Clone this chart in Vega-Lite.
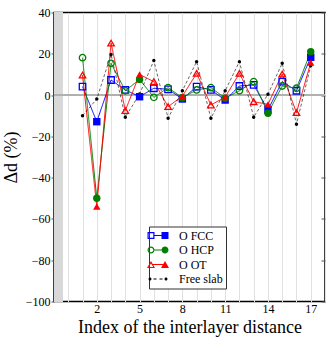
{
  "$schema": "https://vega.github.io/schema/vega-lite/v6.json",
  "width": 271,
  "height": 289,
  "autosize": {"type": "none"},
  "padding": {"left": 54, "top": 12.5, "right": 7, "bottom": 40},
  "config": {
    "font": "Liberation Serif",
    "view": {"stroke": "#000", "strokeWidth": 1.5},
    "axis": {"labelFont": "Liberation Serif", "titleFont": "Liberation Serif", "labelColor": "#000", "titleColor": "#000", "labelFontSize": 12, "titleFontWeight": "normal", "domain": false}
  },
  "datasets": {
    "d": [
      {"idx": 1, "series": "O FCC", "value": 4.1}, {"idx": 2, "series": "O FCC", "value": -12.9}, {"idx": 3, "series": "O FCC", "value": 7.3}, {"idx": 4, "series": "O FCC", "value": 2.5}, {"idx": 5, "series": "O FCC", "value": -0.8}, {"idx": 6, "series": "O FCC", "value": 3.3}, {"idx": 7, "series": "O FCC", "value": 2.8}, {"idx": 8, "series": "O FCC", "value": -1.9}, {"idx": 9, "series": "O FCC", "value": 4.1}, {"idx": 10, "series": "O FCC", "value": 2.5}, {"idx": 11, "series": "O FCC", "value": -2.4}, {"idx": 12, "series": "O FCC", "value": 4.4}, {"idx": 13, "series": "O FCC", "value": 4.9}, {"idx": 14, "series": "O FCC", "value": -7.2}, {"idx": 15, "series": "O FCC", "value": 6.5}, {"idx": 16, "series": "O FCC", "value": 2.1}, {"idx": 17, "series": "O FCC", "value": 18.3},
      {"idx": 1, "series": "O HCP", "value": 18.1}, {"idx": 2, "series": "O HCP", "value": -50}, {"idx": 3, "series": "O HCP", "value": 15.4}, {"idx": 4, "series": "O HCP", "value": 2.1}, {"idx": 5, "series": "O HCP", "value": 7.6}, {"idx": 6, "series": "O HCP", "value": -1.1}, {"idx": 7, "series": "O HCP", "value": 3.6}, {"idx": 8, "series": "O HCP", "value": -1.3}, {"idx": 9, "series": "O HCP", "value": 2.5}, {"idx": 10, "series": "O HCP", "value": 3.6}, {"idx": 11, "series": "O HCP", "value": -1.5}, {"idx": 12, "series": "O HCP", "value": 2.1}, {"idx": 13, "series": "O HCP", "value": 6.5}, {"idx": 14, "series": "O HCP", "value": -8.8}, {"idx": 15, "series": "O HCP", "value": 4.4}, {"idx": 16, "series": "O HCP", "value": 3.3}, {"idx": 17, "series": "O HCP", "value": 21},
      {"idx": 1, "series": "O OT", "value": 9.7}, {"idx": 2, "series": "O OT", "value": -54}, {"idx": 3, "series": "O OT", "value": 25.2}, {"idx": 4, "series": "O OT", "value": -7.5}, {"idx": 5, "series": "O OT", "value": 10}, {"idx": 6, "series": "O OT", "value": 6.5}, {"idx": 7, "series": "O OT", "value": -5.6}, {"idx": 8, "series": "O OT", "value": -0.5}, {"idx": 9, "series": "O OT", "value": 10.5}, {"idx": 10, "series": "O OT", "value": -4.8}, {"idx": 11, "series": "O OT", "value": -1}, {"idx": 12, "series": "O OT", "value": 10.5}, {"idx": 13, "series": "O OT", "value": -3.2}, {"idx": 14, "series": "O OT", "value": -4.5}, {"idx": 15, "series": "O OT", "value": 10.2}, {"idx": 16, "series": "O OT", "value": -8.5}, {"idx": 17, "series": "O OT", "value": 15.7},
      {"idx": 1, "series": "Free slab", "value": -10}, {"idx": 2, "series": "Free slab", "value": -1.9}, {"idx": 3, "series": "Free slab", "value": 19.7}, {"idx": 4, "series": "Free slab", "value": -10.7}, {"idx": 5, "series": "Free slab", "value": 0.5}, {"idx": 6, "series": "Free slab", "value": 16.7}, {"idx": 7, "series": "Free slab", "value": -11.2}, {"idx": 8, "series": "Free slab", "value": 2.1}, {"idx": 9, "series": "Free slab", "value": 16.2}, {"idx": 10, "series": "Free slab", "value": -11.2}, {"idx": 11, "series": "Free slab", "value": 2.1}, {"idx": 12, "series": "Free slab", "value": 16.2}, {"idx": 13, "series": "Free slab", "value": -10.7}, {"idx": 14, "series": "Free slab", "value": 0.4}, {"idx": 15, "series": "Free slab", "value": 15.4}, {"idx": 16, "series": "Free slab", "value": -14.1}, {"idx": 17, "series": "Free slab", "value": 14.2}
    ]
  },
  "data": {"name": "d"},
  "resolve": {"axis": {"x": "independent", "y": "independent"}, "scale": {"shape": "independent", "fill": "independent"}},
  "layer": [
    {
      "mark": {"type": "rect", "color": "#d8d8d8"},
      "encoding": {
        "x": {"datum": -1, "type": "quantitative", "scale": {"domain": [-1, 18], "nice": false, "zero": false},
          "axis": {"orient": "bottom", "values": [-1, 0, 1, 2, 3, 4, 5, 6, 7, 8, 9, 10, 11, 12, 13, 14, 15, 16, 17, 18], "labels": false, "grid": true, "gridColor": "#e2e2e2", "gridWidth": 1, "gridOpacity": 1, "ticks": false, "title": null}},
        "x2": {"datum": -0.42},
        "y": {"datum": -100, "type": "quantitative", "scale": {"domain": [-100, 40], "nice": false, "zero": false},
          "axis": {"orient": "left", "values": [-100, -80, -60, -40, -20, 0, 20, 40], "labelOverlap": false, "labelFlush": false, "grid": false, "tickSize": 3, "tickColor": "#555", "labelPadding": 1, "title": "Δd (%)", "titleFontSize": 18, "titlePadding": 5}},
        "y2": {"datum": 40}
      }
    },
    {
      "mark": {"type": "rule", "color": "#b0b0b0", "strokeWidth": 1},
      "encoding": {
        "y": {"datum": 0, "type": "quantitative", "axis": {"orient": "right", "values": [-100, -80, -60, -40, -20, 0, 20, 40], "grid": false, "labels": false, "tickSize": -4, "tickColor": "#555", "title": null}}
      }
    },
    {
      "mark": {"type": "line", "strokeWidth": 1},
      "encoding": {
        "x": {"field": "idx", "type": "quantitative",
          "axis": {"orient": "bottom", "values": [2, 5, 8, 11, 14, 17], "grid": false, "ticks": false, "labelPadding": 2, "labelFlush": false, "labelOverlap": false, "title": "Index of the interlayer distance", "titleFontSize": 18, "titlePadding": 4}},
        "y": {"field": "value", "type": "quantitative", "axis": null},
        "color": {"field": "series", "type": "nominal",
          "scale": {"domain": ["O FCC", "O HCP", "O OT", "Free slab"], "range": ["#0000ff", "#008000", "#ff0000", "#000000"]},
          "legend": null},
        "strokeDash": {"field": "series", "type": "nominal", "scale": {"domain": ["O FCC", "O HCP", "O OT", "Free slab"], "range": [[1, 0], [1, 0], [1, 0], [3, 2]]}, "legend": null},
        "strokeOpacity": {"condition": {"test": "datum.series === 'Free slab'", "value": 0.6}, "value": 1}
      }
    },
    {
      "transform": [{"filter": "datum.series === 'Free slab'"}],
      "mark": {"type": "point", "filled": true, "shape": "circle", "size": 12, "color": "#000", "opacity": 1},
      "encoding": {
        "x": {"field": "idx", "type": "quantitative", "axis": null},
        "y": {"field": "value", "type": "quantitative", "axis": null}
      }
    },
    {
      "transform": [{"filter": "datum.series !== 'Free slab' && datum.idx % 3 !== 2"}],
      "mark": {"type": "point", "filled": false, "strokeWidth": 1.3, "size": 42, "opacity": 1, "fill": "#ffffff", "fillOpacity": 0},
      "encoding": {
        "x": {"field": "idx", "type": "quantitative", "axis": null},
        "y": {"field": "value", "type": "quantitative", "axis": null},
        "color": {"field": "series", "type": "nominal", "legend": null},
        "shape": {"field": "series", "type": "nominal", "scale": {"domain": ["O FCC", "O HCP", "O OT", "Free slab"], "range": ["square", "circle", "triangle-up", "circle"]}, "legend": null}
      }
    },
    {
      "transform": [{"filter": "datum.series !== 'Free slab' && datum.idx % 3 === 2"}],
      "mark": {"type": "point", "filled": true, "size": 55, "opacity": 1},
      "encoding": {
        "x": {"field": "idx", "type": "quantitative", "axis": null},
        "y": {"field": "value", "type": "quantitative", "axis": null},
        "color": {"field": "series", "type": "nominal", "legend": null},
        "shape": {"field": "series", "type": "nominal", "scale": {"domain": ["O FCC", "O HCP", "O OT", "Free slab"], "range": ["square", "circle", "triangle-up", "circle"]}, "legend": null}
      }
    },
    {
      "transform": [{"filter": "datum.idx === 1"}],
      "mark": {"type": "point", "filled": true, "size": 4, "opacity": 0, "strokeWidth": 0},
      "encoding": {
        "x": {"field": "idx", "type": "quantitative", "axis": null},
        "y": {"field": "value", "type": "quantitative", "axis": null},
        "fill": {"field": "series", "type": "nominal",
          "scale": {"domain": ["O FCC", "O HCP", "O OT", "Free slab"], "range": ["#0000ff", "#008000", "#ff0000", "#000000"]},
          "legend": {
            "orient": "none", "legendX": 95, "legendY": 214, "title": null,
            "fillColor": "#ffffff", "strokeColor": "#333333", "padding": 3, "cornerRadius": 0,
            "labelFont": "Liberation Serif", "labelFontSize": 12, "labelColor": "#000", "labelOffset": 15,
            "symbolSize": 4, "symbolStrokeWidth": 0, "symbolOpacity": 1, "rowPadding": 2.5}},
        "shape": {"field": "series", "type": "nominal",
          "scale": {"domain": ["O FCC", "O HCP", "O OT", "Free slab"], "range": [
            "M-10.5,-3.5L-3.5,-3.5L-3.5,3.5L-10.5,3.5ZM-9.3,-2.3L-9.3,2.3L-4.7,2.3L-4.7,-2.3ZM-3.5,-0.5L3.5,-0.5L3.5,0.5L-3.5,0.5ZM3.5,-3.5L10.5,-3.5L10.5,3.5L3.5,3.5Z",
            "M-10.5,0A3.5,3.5 0 1 1 -3.5,0A3.5,3.5 0 1 1 -10.5,0ZM-9.3,0A2.3,2.3 0 1 0 -4.7,0A2.3,2.3 0 1 0 -9.3,0ZM-3.5,-0.5L3.5,-0.5L3.5,0.5L-3.5,0.5ZM3.5,0A3.5,3.5 0 1 1 10.5,0A3.5,3.5 0 1 1 3.5,0Z",
            "M-7,-3.5L-3,3.5L-11,3.5ZM-7,-1.1L-9.3,2.4L-4.7,2.4ZM-5.5,-0.5L5.5,-0.5L5.5,0.5L-5.5,0.5ZM7,-3.5L11,3.5L3,3.5Z",
            "M-9.5,0A1.5,1.5 0 1 1 -6.5,0A1.5,1.5 0 1 1 -9.5,0ZM-4.5,-0.4L-1.5,-0.4L-1.5,0.4L-4.5,0.4ZM1.5,-0.4L4.5,-0.4L4.5,0.4L1.5,0.4ZM6.5,0A1.5,1.5 0 1 1 9.5,0A1.5,1.5 0 1 1 6.5,0Z"
          ]},
          "legend": {
            "orient": "none", "legendX": 95, "legendY": 214, "title": null,
            "fillColor": "#ffffff", "strokeColor": "#333333", "padding": 3, "cornerRadius": 0,
            "labelFont": "Liberation Serif", "labelFontSize": 12, "labelColor": "#000", "labelOffset": 15,
            "symbolSize": 4, "symbolStrokeWidth": 0, "symbolOpacity": 1, "rowPadding": 2.5}}
      }
    }
  ]
}
